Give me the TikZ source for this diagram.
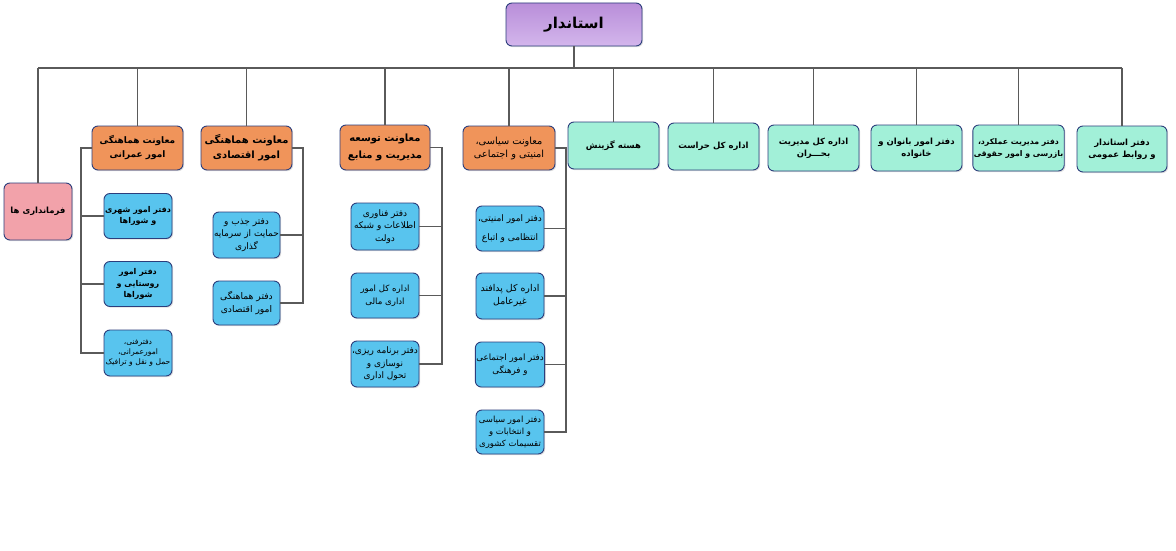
\documentclass[tikz,border=0pt]{standalone}
\usepackage{fontspec}
\usetikzlibrary{shadows}
\TeXXeTstate=1
\newfontfamily\arabicfont[Script=Arabic]{DejaVu Sans}
\newcommand{\fa}[1]{\beginR #1\endR}
\definecolor{navyline}{HTML}{2C3E7C}
\definecolor{wiregray}{HTML}{5A5A5A}
\definecolor{purpletop}{HTML}{B98ED9}
\definecolor{purplebot}{HTML}{D3B6EC}
\definecolor{orangebox}{HTML}{F0945A}
\definecolor{tealbox}{HTML}{A2F0D8}
\definecolor{bluebox}{HTML}{58C4EE}
\definecolor{pinkbox}{HTML}{F2A2AA}
\begin{document}
\begin{tikzpicture}[x=1pt, y=-1pt,
    unit/.style={draw=navyline, line width=0.9pt, rounded corners=6pt, align=center,
      inner sep=1pt, drop shadow={opacity=0.25, shadow xshift=1.2pt, shadow yshift=-1.2pt},
      font=\arabicfont\bfseries\fontsize{8.5}{12}\selectfont},
    chief/.style={unit, top color=purpletop, bottom color=purplebot,
      minimum width=136pt, minimum height=43pt, font=\arabicfont\bfseries\fontsize{15}{17}\selectfont},
    deputy/.style={unit, fill=orangebox, minimum width=91pt, minimum height=44pt,
      font=\arabicfont\bfseries\fontsize{9}{14}\selectfont},
    office/.style={unit, fill=tealbox, minimum width=91pt, minimum height=46pt},
    subunit/.style={unit, fill=bluebox, minimum width=68pt, minimum height=45pt,
      font=\arabicfont\fontsize{9}{12.5}\selectfont},
    wire/.style={draw=wiregray, line width=1.4pt}]
  \useasboundingbox[fill=white] (0,0) rectangle (1176,551);
  %
  \node[chief] (ostandar) at (574,24.5) {\fa{استاندار}};
  \coordinate (bus) at (574,68);
  %
  % first row
  \node[unit, fill=pinkbox, minimum width=68pt, minimum height=57pt] (farmandari) at (38,211.5) {\fa{فرمانداری ها}};
  \node[deputy] (omrani) at (137.5,148) {\fa{معاونت هماهنگی}\\\fa{امور عمرانی}};
  \node[deputy, font=\arabicfont\bfseries\fontsize{10}{15}\selectfont] (eghtesadi) at (246.5,148) {\fa{معاونت هماهنگی}\\\fa{امور اقتصادی}};
  \node[deputy, minimum width=90pt, minimum height=45pt, font=\arabicfont\bfseries\fontsize{10}{17}\selectfont] (tosee) at (385,147.5) {\fa{معاونت توسعه}\\\fa{مدیریت و منابع}};
  \node[deputy, minimum width=92pt, font=\arabicfont\fontsize{9.8}{13}\selectfont] (siasi) at (509,148) {\fa{معاونت سیاسی،}\\\fa{امنیتی و اجتماعی}};
  \node[office, minimum height=47pt] (gozinesh) at (613.5,145.5) {\fa{هسته گزینش}};
  \node[office, minimum height=47pt] (herasat) at (713.5,146.5) {\fa{اداره کل حراست}};
  \node[office] (bohran) at (813.5,148) {\fa{اداره کل مدیریت}\\\fa{بحـــران}};
  \node[office] (banovan) at (916.5,148) {\fa{دفتر امور بانوان و}\\\fa{خانواده}};
  \node[office, font=\arabicfont\bfseries\fontsize{7.8}{12}\selectfont] (amalkard) at (1018.5,148) {\fa{دفتر مدیریت عملکرد،}\\\fa{بازرسی و  امور حقوقی}};
  \node[office, minimum width=90pt] (ravabet) at (1122,149) {\fa{دفتر استاندار}\\\fa{و روابط عمومی}};
  %
  \draw[wire] (ostandar) -- (bus);
  \draw[wire] (farmandari.north |- bus) -- (ravabet.north |- bus);
  \foreach \n in {farmandari,omrani,eghtesadi,tosee,siasi,gozinesh,herasat,bohran,banovan,amalkard,ravabet}
    \draw[wire] (\n.north |- bus) -- (\n.north);
  %
  % omrani offices
  \node[subunit, font=\arabicfont\bfseries\fontsize{8}{11.5}\selectfont] (omr1) at (138,216) {\fa{دفتر امور شهری}\\\fa{و شوراها}};
  \node[subunit, font=\arabicfont\bfseries\fontsize{8}{11.5}\selectfont] (omr2) at (138,284) {\fa{دفتر امور}\\\fa{روستایی و}\\\fa{شوراها}};
  \node[subunit, minimum height=46pt, font=\arabicfont\fontsize{7.6}{10}\selectfont] (omr3) at (138,353) {\fa{دفترفنی،}\\\fa{امورعمرانی،}\\\fa{حمل و نقل و ترافیک}};
  \coordinate (omrbar) at (81,0);
  \draw[wire] (omrani.west) -- (omrani.west -| omrbar) -- (omr3.west -| omrbar) -- (omr3.west);
  \foreach \n in {omr1,omr2}
    \draw[wire] (\n.west -| omrbar) -- (\n.west);
  %
  % eghtesadi offices
  \node[subunit, minimum width=67pt, minimum height=46pt] (eqt1) at (246.5,235) {\fa{دفتر جذب و}\\\fa{حمایت از سرمایه}\\\fa{گذاری}};
  \node[subunit, minimum width=67pt, minimum height=44pt, font=\arabicfont\fontsize{9.2}{13}\selectfont] (eqt2) at (246.5,303) {\fa{دفتر هماهنگی}\\\fa{امور اقتصادی}};
  \coordinate (eqtbar) at (303,0);
  \draw[wire] (eghtesadi.east) -- (eghtesadi.east -| eqtbar) -- (eqt2.east -| eqtbar) -- (eqt2.east);
  \draw[wire] (eqt1.east) -- (eqt1.east -| eqtbar);
  %
  % tosee offices
  \node[subunit, minimum height=47pt] (tos1) at (385,226.5) {\fa{دفتر  فناوری}\\\fa{اطلاعات و شبکه}\\\fa{دولت}};
  \node[subunit, font=\arabicfont\fontsize{8.6}{13}\selectfont] (tos2) at (385,295.5) {\fa{اداره کل امور}\\\fa{اداری مالی}};
  \node[subunit, minimum height=46pt] (tos3) at (385,364) {\fa{دفتر برنامه ریزی،}\\\fa{نوسازی و}\\\fa{تحول اداری}};
  \coordinate (tosbar) at (442,0);
  \draw[wire] (tosee.east) -- (tosee.east -| tosbar) -- (tos3.east -| tosbar) -- (tos3.east);
  \foreach \n in {tos1,tos2}
    \draw[wire] (\n.east) -- (\n.east -| tosbar);
  %
  % siasi offices
  \node[subunit] (sia1) at (510,228.5) {\fa{دفتر امور امنیتی،}\\[6pt]\fa{انتظامی و اتباع}};
  \node[subunit, minimum height=46pt, font=\arabicfont\fontsize{9.4}{13}\selectfont] (sia2) at (510,296) {\fa{اداره کل پدافند}\\\fa{غیرعامل}};
  \node[subunit, font=\arabicfont\fontsize{8.7}{13}\selectfont] (sia3) at (510,364.5) {\fa{دفتر امور اجتماعی}\\\fa{و فرهنگی}};
  \node[subunit, minimum height=44pt, font=\arabicfont\fontsize{8.5}{12}\selectfont] (sia4) at (510,432) {\fa{دفتر امور سیاسی}\\\fa{و انتخابات و}\\\fa{تقسیمات کشوری}};
  \coordinate (siabar) at (566,0);
  \draw[wire] (siasi.east) -- (siasi.east -| siabar) -- (sia4.east -| siabar) -- (sia4.east);
  \foreach \n in {sia1,sia2,sia3}
    \draw[wire] (\n.east) -- (\n.east -| siabar);
  %
\end{tikzpicture}
\end{document}
